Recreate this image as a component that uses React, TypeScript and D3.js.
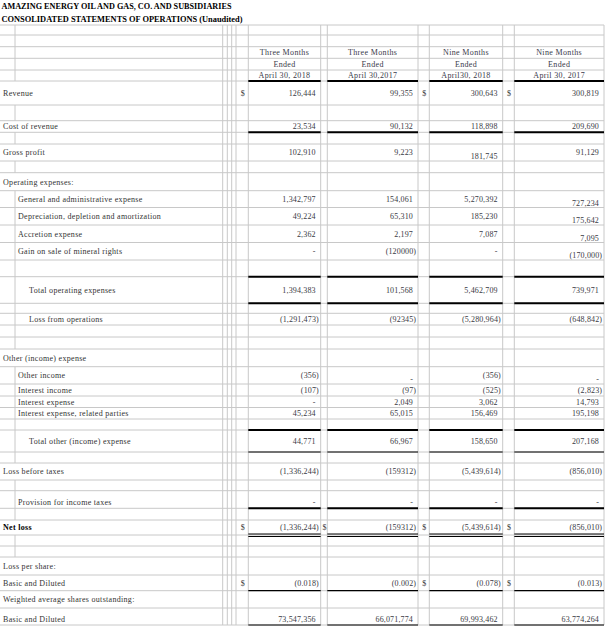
import React from "react";
import * as d3 from "d3";

// ---------- DATA ----------
const titleLines = [
  "AMAZING ENERGY OIL AND GAS, CO. AND SUBSIDIARIES",
  "CONSOLIDATED STATEMENTS OF OPERATIONS (Unaudited)",
];
const periodLabels = ["Three Months", "Three Months", "Nine Months", "Nine Months"];
const endedLabels = ["Ended", "Ended", "Ended", "Ended"];
const dateLabels = ["April 30, 2018", "April 30,2017", "April30, 2018", "April 30, 2017"];

const rowLabels = [
  "Revenue", "", "Cost of revenue", "", "Gross profit", "", "Operating expenses:",
  "General and administrative expense", "Depreciation, depletion and amortization",
  "Accretion expense", "Gain on sale of mineral rights", "", "Total operating expenses", "",
  "Loss from operations", "", "", "Other (income) expense", "Other income", "Interest income",
  "Interest expense", "Interest expense, related parties", "", "Total other (income) expense", "",
  "Loss before taxes", "", "Provision for income taxes", "", "Net loss", "", "",
  "Loss per share:", "Basic and Diluted", "Weighted average shares outstanding:", "Basic and Diluted",
];

const threeMonths2018 = [
  "126,444", "", "23,534", "", "102,910", "", "", "1,342,797", "49,224", "2,362", "-", "",
  "1,394,383", "", "(1,291,473)", "", "", "", "(356)", "(107)", "-", "45,234", "", "44,771", "",
  "(1,336,244)", "", "-", "", "(1,336,244)", "", "", "", "(0.018)", "", "73,547,356",
];
const threeMonths2017 = [
  "99,355", "", "90,132", "", "9,223", "", "", "154,061", "65,310", "2,197", "(120000)", "",
  "101,568", "", "(92345)", "", "", "", "-", "(97)", "2,049", "65,015", "", "66,967", "",
  "(159312)", "", "-", "", "(159312)", "", "", "", "(0.002)", "", "66,071,774",
];
const nineMonths2018 = [
  "300,643", "", "118,898", "", "181,745", "", "", "5,270,392", "185,230", "7,087", "-", "",
  "5,462,709", "", "(5,280,964)", "", "", "", "(356)", "(525)", "3,062", "156,469", "", "158,650", "",
  "(5,439,614)", "", "-", "", "(5,439,614)", "", "", "", "(0.078)", "", "69,993,462",
];
const nineMonths2017 = [
  "300,819", "", "209,690", "", "91,129", "", "", "727,234", "175,642", "7,095", "(170,000)", "",
  "739,971", "", "(648,842)", "", "", "", "-", "(2,823)", "14,793", "195,198", "", "207,168", "",
  "(856,010)", "", "-", "", "(856,010)", "", "", "", "(0.013)", "", "63,774,264",
];

// ---------- LAYOUT ----------
const W = 605;
const H = 628;
const headerHeights = [12.5, 12.5, 10, 11.7, 11.6, 11.7, 11];
const bodyHeights = [
  24, 15.7, 11.6, 11.7, 17, 11.7, 18, 16.8, 17.5, 17.5, 17.5, 16.7, 26.6, 10, 11.7, 12, 12,
  17.7, 17.3, 12, 11.5, 11.5, 11, 22, 11, 17, 10.7, 17.6, 11.7, 15, 11, 11, 18, 15.7, 17.3, 17,
];
// indent level of each body row label
const indentLevels = [
  0, 0, 0, 0, 0, 0, 0, 1, 1, 1, 1, 0, 2, 0, 2, 0, 0, 0, 1, 1, 1, 1, 0, 2, 0, 0, 0, 1, 0, 0, 0, 0,
  0, 0, 0, 0,
];
// underline style under the data cells of each body row
const underlines: Record<number, string> = {
  2: "thick", 11: "thick", 12: "thick", 22: "thick", 23: "thin", 27: "thick", 29: "double",
  33: "thin", 35: "thin",
};
// dollar signs: [A, narrow, B, C]
const dollarRows: Record<number, boolean[]> = {
  0: [true, false, true, true],
  29: [true, true, true, true],
  33: [true, false, true, true],
};
const boldRows = new Set([29]);
// rows whose text sits lower in the row
const lowRows = new Set([27, 35]);
// cells whose text sits at the bottom of the cell: "row-col"
const bottomCells = new Set(["4-2", "7-3", "8-3", "9-3", "10-3", "18-1", "18-3"]);

const colEdges = [0, 15, 222.7, 227.3, 231.7, 236, 248.3, 320.7, 327.3, 418, 429.3, 502.7, 514.3, 604];
const dataCols: [number, number][] = [
  [248.3, 320.7],
  [327.3, 418],
  [429.3, 502.7],
  [514.3, 604],
];
const dollarCols: [number, number][] = [
  [236, 248.3],
  [320.7, 327.3],
  [418, 429.3],
  [502.7, 514.3],
];
const indentX = [3, 18, 29];

const GRID = "#c8c8c8";
const TEXT = "#333";
const FONT = "'Liberation Serif', 'Times New Roman', serif";

export default function App() {
  const heights = [...headerHeights, ...bodyHeights];
  const tops = [0, ...Array.from(d3.cumsum(heights))];
  const gridTop = tops[2];
  const gridBottom = tops[tops.length - 1];
  const nHeader = headerHeights.length;
  const series = [threeMonths2018, threeMonths2017, nineMonths2018, nineMonths2017];

  const rowTop = (i: number) => tops[nHeader + i];
  const rowBottom = (i: number) => tops[nHeader + i + 1];
  const rowMid = (i: number) =>
    lowRows.has(i) ? rowBottom(i) - 6 : (rowTop(i) + rowBottom(i)) / 2;

  // indent line segments at x=15
  const indentSegments: [number, number][] = [];
  for (let r = 2; r < nHeader; r++) indentSegments.push([tops[r], tops[r + 1]]);
  rowLabels.forEach((lab, i) => {
    if (lab === "" || indentLevels[i] > 0) indentSegments.push([rowTop(i), rowBottom(i)]);
  });

  const headerMid = (r: number) => (tops[r] + tops[r + 1]) / 2;

  return (
    <svg
      width={W}
      height={H}
      viewBox={`0 0 ${W} ${H}`}
      style={{ position: "absolute", left: 0, top: 0, background: "#fff" }}
      fontFamily={FONT}
    >
      <rect x={0} y={0} width={W} height={H} fill="#fff" />
      {/* horizontal grid */}
      {tops.slice(2).map((y, i) => (
        <line key={"h" + i} x1={0} x2={colEdges[colEdges.length - 1]} y1={y} y2={y} stroke={GRID} strokeWidth={1} />
      ))}
      {/* vertical grid */}
      {colEdges.slice(2).map((x, i) => (
        <line key={"v" + i} x1={x} x2={x} y1={gridTop} y2={gridBottom} stroke={GRID} strokeWidth={1} />
      ))}
      {indentSegments.map(([a, b], i) => (
        <line key={"ind" + i} x1={colEdges[1]} x2={colEdges[1]} y1={a} y2={b} stroke={GRID} strokeWidth={1} />
      ))}

      {/* titles */}
      {titleLines.map((t, i) => (
        <text
          key={"t" + i}
          x={1.5}
          y={headerMid(i)}
          dy="0.35em"
          fontSize={8.5}
          fontWeight="bold"
          fill="#000"
          textLength={i === 0 ? 230 : 241}
          lengthAdjust="spacingAndGlyphs"
        >
          {t}
        </text>
      ))}

      {/* column headers */}
      {[periodLabels, endedLabels, dateLabels].map((arr, r) =>
        arr.map((t, c) => (
          <text
            key={"hd" + r + "-" + c}
            x={(dataCols[c][0] + dataCols[c][1]) / 2}
            y={headerMid(4 + r)}
            dy="0.35em"
            textAnchor="middle"
            fontSize={8}
            letterSpacing={0.35}
            fill="#3a3a4a"
          >
            {t}
          </text>
        ))
      )}
      {dataCols.map(([a, b], c) => (
        <line key={"hl" + c} x1={a} x2={b} y1={tops[nHeader]} y2={tops[nHeader]} stroke="#000" strokeWidth={2} />
      ))}

      {/* body */}
      {rowLabels.map((lab, i) =>
        lab ? (
          <text
            key={"l" + i}
            x={indentX[indentLevels[i]]}
            y={rowMid(i)}
            dy="0.35em"
            fontSize={8}
            letterSpacing={0.3}
            fontWeight={boldRows.has(i) ? "bold" : "normal"}
            fill={boldRows.has(i) ? "#000" : TEXT}
          >
            {lab}
          </text>
        ) : null
      )}

      {series.map((vals, c) =>
        vals.map((v, i) => {
          if (!v) return null;
          const neg = v.endsWith(")");
          const right = dataCols[c][1];
          const x = neg ? right - 1.8 : right - 5;
          const y = bottomCells.has(i + "-" + c) ? rowBottom(i) - 4.5 : rowMid(i);
          return (
            <text
              key={"v" + c + "-" + i}
              x={x}
              y={y}
              dy="0.35em"
              textAnchor="end"
              fontSize={8}
              letterSpacing={0.15}
              fill="#3a3a44"
            >
              {v}
            </text>
          );
        })
      )}

      {Object.entries(dollarRows).map(([k, flags]) => {
        const i = +k;
        return flags.map((f, j) =>
          f ? (
            <text
              key={"d" + i + "-" + j}
              x={(dollarCols[j][0] + dollarCols[j][1]) / 2 + 0.5}
              y={rowMid(i)}
              dy="0.35em"
              textAnchor="middle"
              fontSize={8}
              fill={TEXT}
            >
              $
            </text>
          ) : null
        );
      })}

      {/* underlines */}
      {Object.entries(underlines).map(([k, kind]) => {
        const y = rowBottom(+k);
        return dataCols.map(([a, b], c) => {
          if (kind === "thick")
            return <line key={"u" + k + c} x1={a} x2={b} y1={y} y2={y} stroke="#000" strokeWidth={2} />;
          if (kind === "thin")
            return <line key={"u" + k + c} x1={a} x2={b} y1={y} y2={y} stroke="#000" strokeWidth={1.2} />;
          return (
            <g key={"u" + k + c}>
              <line x1={a} x2={b} y1={y - 1} y2={y - 1} stroke="#000" strokeWidth={1} />
              <line x1={a} x2={b} y1={y + 1.5} y2={y + 1.5} stroke="#000" strokeWidth={1} />
            </g>
          );
        });
      })}
    </svg>
  );
}
